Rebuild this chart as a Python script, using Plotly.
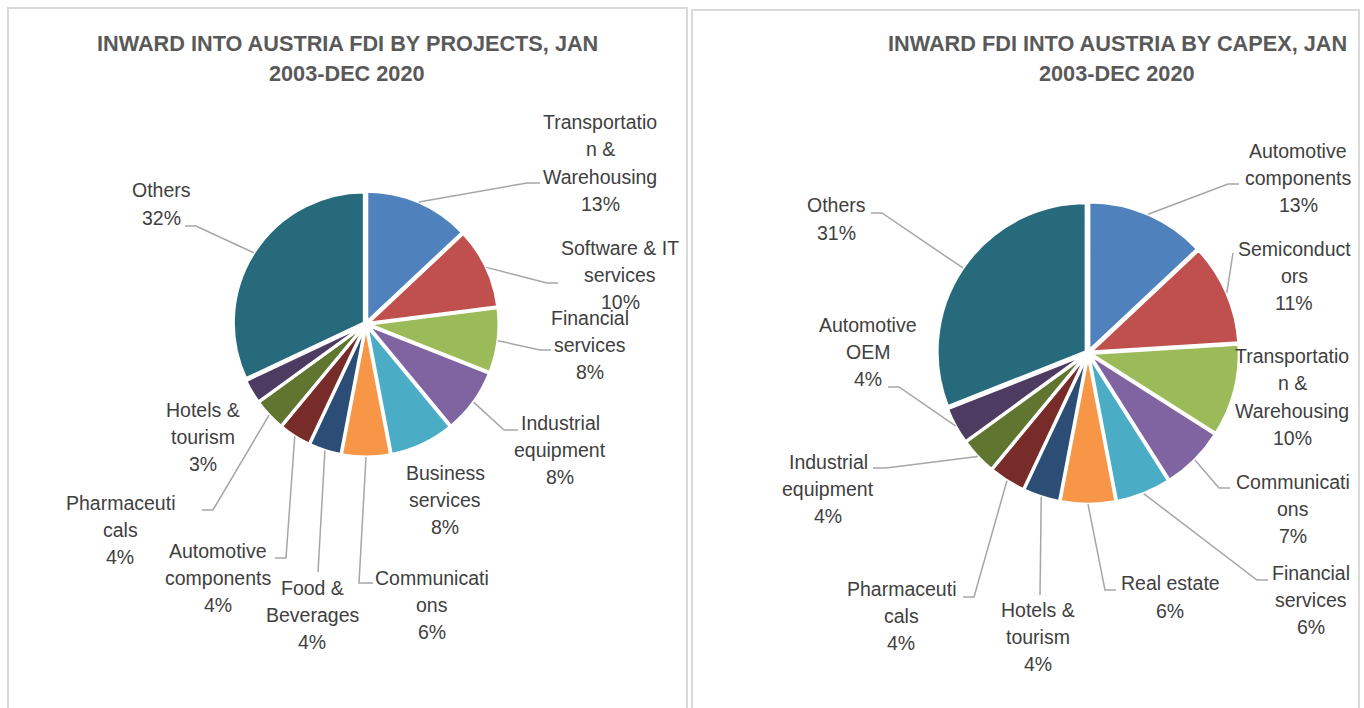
import math
import plotly.graph_objects as go

W, H = 1364, 708

# ---------------- data ----------------
colors = ["#4F81BD", "#C0504D", "#9BBB59", "#8064A2", "#4BACC6", "#F79646",
          "#2C4D75", "#772C2A", "#5F7530", "#4D3B62", "#276A7C"]

left_title = ["INWARD INTO AUSTRIA FDI BY PROJECTS, JAN", "2003-DEC 2020"]
left_labels = ["Transportation & Warehousing", "Software & IT services", "Financial services",
               "Industrial equipment", "Business services", "Communications",
               "Food & Beverages", "Automotive components", "Pharmaceuticals",
               "Hotels & tourism", "Others"]
left_values = [13, 10, 8, 8, 8, 6, 4, 4, 4, 3, 32]
left_text = ["Transportatio|n &|Warehousing", "Software & IT|services", "Financial|services",
             "Industrial|equipment", "Business|services", "Communicati|ons",
             "Food &|Beverages", "Automotive|components", "Pharmaceuti|cals",
             "Hotels &|tourism", "Others"]

right_title = ["INWARD FDI INTO AUSTRIA BY CAPEX, JAN", "2003-DEC 2020"]
right_labels = ["Automotive components", "Semiconductors", "Transportation & Warehousing",
                "Communications", "Financial services", "Real estate", "Hotels & tourism",
                "Pharmaceuticals", "Industrial equipment", "Automotive OEM", "Others"]
right_values = [13, 11, 10, 7, 6, 6, 4, 4, 4, 4, 31]
right_text = ["Automotive|components", "Semiconduct|ors", "Transportatio|n &|Warehousing",
              "Communicati|ons", "Financial|services", "Real estate", "Hotels &|tourism",
              "Pharmaceuti|cals", "Industrial|equipment", "Automotive|OEM", "Others"]

# ---------------- layout (pixel positions) ----------------
left_pie = dict(cx=366, cy=324, r=131)
right_pie = dict(cx=1088, cy=353, r=149)
PULL = 0.015

# label centre (x, y) in px, leader elbow and end (None = no leader)
left_pos = [
    ((600, 163), (527, 183), (540, 183)),
    ((620, 275), (547, 283), (558, 283)),
    ((590, 345), (540, 350), (551, 350)),
    ((560, 450), (504, 430), (518, 430)),
    ((445, 500), None, None),
    ((432, 605), (359, 583), (373, 583)),
    ((312, 615), (318, 572), (318, 572)),
    ((218, 578), (286, 558), (275, 558)),
    ((120, 530), (213, 510), (202, 510)),
    ((203, 437), None, None),
    ((161, 204), (196, 226), (185, 226)),
]
right_pos = [
    ((1298, 178), (1228, 184), (1239, 184)),
    ((1294, 276), (1233, 253), (1233, 253)),
    ((1292, 397), None, None),
    ((1293, 509), (1219, 488), (1230, 488)),
    ((1311, 600), (1257, 580), (1268, 580)),
    ((1170, 597), (1105, 590), (1116, 590)),
    ((1038, 637), (1040, 595), (1040, 595)),
    ((901, 616), (974, 597), (963, 597)),
    ((828, 489), (886, 468), (873, 468)),
    ((868, 352), (899, 387), (888, 387)),
    ((836, 219), (882, 213), (871, 213)),
]

FONT = "Liberation Sans, Arial, sans-serif"
TXT = "#404040"
TITLE = "#595959"
LEADER = "#A6A6A6"
LABEL_SIZE = 19.5
TITLE_SIZE = 21.7
LABEL_LS = 27.3
TITLE_LS = 30
TITLE_Y = 44


def px(x, y):
    return x / W, 1 - y / H


fig = go.Figure()
shapes = []
annotations = []


def text_lines(lines, x, yc, ls, size, color, bold=False):
    n = len(lines)
    for i, line in enumerate(lines):
        y = yc + (i - (n - 1) / 2) * ls
        ax, ay = px(x, y)
        annotations.append(dict(
            x=ax, y=ay, xref="paper", yref="paper",
            text=("<b>" + line + "</b>") if bold else line,
            showarrow=False, xanchor="center", yanchor="middle", align="center",
            font=dict(family=FONT, size=size, color=color)))


def add_chart(labels, values, text, pie, pos, title, title_x):
    cx, cy, r = pie["cx"], pie["cy"], pie["r"]
    half = r * (1 + PULL)
    x0, y0 = px(cx - half, cy + half)
    x1, y1 = px(cx + half, cy - half)
    fig.add_trace(go.Pie(
        labels=labels, values=values, sort=False, direction="clockwise", rotation=0,
        pull=PULL,
        marker=dict(colors=colors, line=dict(color="white", width=3)),
        textinfo="none", hoverinfo="label+percent", showlegend=False,
        domain=dict(x=[x0, x1], y=[y0, y1]),
    ))
    total = sum(values)
    cum = 0
    for lab, v, t, p in zip(labels, values, text, pos):
        mid = (cum + v / 2) / total * 2 * math.pi
        cum += v
        pct = f"{round(v / total * 100)}%"
        (lx, ly), elbow, end = p
        text_lines(t.split("|") + [pct], lx, ly, LABEL_LS, LABEL_SIZE, TXT)
        if elbow is not None:
            rr = r * (1 + PULL)
            sx = cx + rr * math.sin(mid)
            sy = cy - rr * math.cos(mid)
            pts = [px(sx, sy), px(*elbow), px(*end)]
            path = "M {} {} L {} {} L {} {}".format(*[c for pt in pts for c in pt])
            shapes.append(dict(type="path", path=path, xref="paper", yref="paper",
                               line=dict(color=LEADER, width=1.5)))
    text_lines(title, title_x, TITLE_Y + TITLE_LS / 2, TITLE_LS, TITLE_SIZE, TITLE, bold=True)


add_chart(left_labels, left_values, left_text, left_pie, left_pos, left_title, 347)
add_chart(right_labels, right_values, right_text, right_pie, right_pos, right_title, 1117)

# panel borders
for (a, b, c, d) in [(8, 8, 687, 715), (692, 10, 1359, 715)]:
    x0, y1 = px(a, b)
    x1, y0 = px(c, d)
    shapes.append(dict(type="rect", xref="paper", yref="paper", x0=x0, x1=x1, y0=y0, y1=y1,
                       line=dict(color="#D9D9D9", width=2), layer="below"))

fig.update_layout(
    width=W, height=H, margin=dict(l=0, r=0, t=0, b=0),
    paper_bgcolor="white", plot_bgcolor="white",
    shapes=shapes, annotations=annotations,
)
fig.write_html("out.html", config={"displayModeBar": False},
               post_script="document.body.style.margin='0';document.body.style.overflow='hidden';")
